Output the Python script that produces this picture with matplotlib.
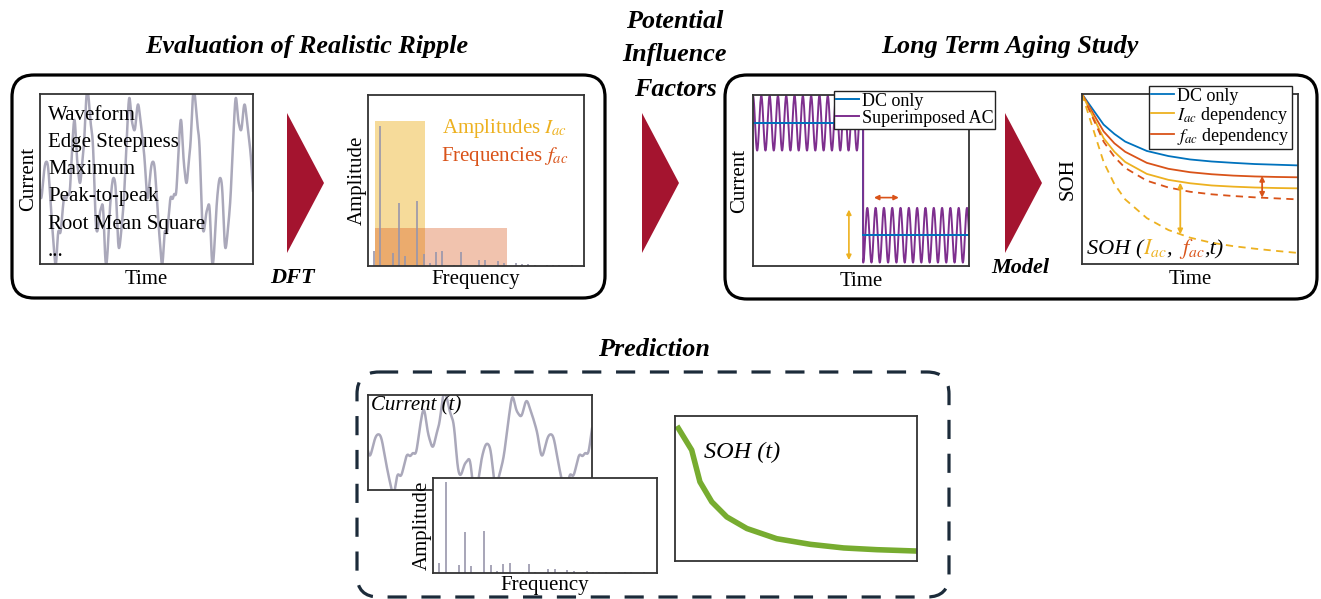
import numpy as np
import matplotlib
matplotlib.use("Agg")
import matplotlib.pyplot as plt
from matplotlib.patches import FancyBboxPatch, Polygon, Rectangle
from matplotlib.lines import Line2D
from matplotlib.offsetbox import TextArea, HPacker, AnchoredOffsetbox

plt.rcParams['font.family'] = 'serif'
plt.rcParams['font.serif'] = ['Liberation Serif', 'DejaVu Serif']
plt.rcParams['mathtext.fontset'] = 'stix'

# ---- data ----
# DFT spectrum (bin index, normalised amplitude)
spec_bins = [1, 2, 4, 5, 6, 8, 9, 10, 11, 12, 14, 15, 16, 18, 19, 21, 22, 24, 25, 26, 27, 29, 30, 31, 33]
spec_amps = [0.09, 0.82, 0.075, 0.37, 0.06, 0.38, 0.07, 0.015, 0.08, 0.09, 0.008, 0.08, 0.008,
             0.036, 0.036, 0.03, 0.02, 0.015, 0.01, 0.01, 0.008, 0.008, 0.008, 0.008, 0.008]
spec_phase = [0.3, 1.2, 2.0, 4.1, 0.7, 2.6, 5.0, 1.0, 3.3, 0.2, 1.5, 2.2, 4.4,
              0.9, 3.8, 2.9, 1.1, 5.5, 0.4, 2.7, 1.9, 3.1, 0.6, 4.8, 2.4]

# ripple test profile (normalised)
dc_high = 0.835
dc_low = 0.18
step_time = 0.51
ripple_amp = 0.16
ripple_cycles = 26

# aging curves (normalised time / SOH)
aging_t = [0, 0.05, 0.1, 0.15, 0.2, 0.3, 0.4, 0.5, 0.6, 0.7, 0.8, 0.9, 1.0]
soh_dc = [1.0, 0.91, 0.82, 0.765, 0.72, 0.665, 0.635, 0.615, 0.603, 0.595, 0.588, 0.584, 0.58]
soh_fac = [1.0, 0.89, 0.78, 0.71, 0.66, 0.595, 0.56, 0.54, 0.528, 0.52, 0.515, 0.512, 0.51]
soh_iac = [1.0, 0.87, 0.74, 0.66, 0.60, 0.53, 0.495, 0.475, 0.462, 0.455, 0.45, 0.447, 0.445]
soh_fac_hi = [1.0, 0.86, 0.72, 0.63, 0.565, 0.49, 0.45, 0.425, 0.41, 0.40, 0.392, 0.386, 0.38]
soh_iac_hi = [1.0, 0.80, 0.60, 0.47, 0.38, 0.27, 0.20, 0.155, 0.125, 0.105, 0.09, 0.077, 0.065]

# predicted SOH
pred_t = [0.014, 0.069, 0.103, 0.152, 0.214, 0.297, 0.42, 0.559, 0.697, 0.834, 0.993]
pred_soh = [0.915, 0.765, 0.546, 0.408, 0.304, 0.224, 0.154, 0.115, 0.09, 0.078, 0.069]

# colours
c_blue = '#0072BD'
c_yel = '#EDB120'
c_red = '#D95319'
c_pur = '#7E2F8E'
c_green = '#77AC30'
c_wave = '#AAA8BA'
c_spec = '#9896AC'
c_tri = '#A4142F'
c_dash = '#1C2B3A'

W, H = 1321, 599


def rect(x0, y0, x1, y1):
    return [x0 / W, 1 - y1 / H, (x1 - x0) / W, (y1 - y0) / H]


def synth(t, cycles):
    y = np.zeros_like(t)
    for b, a, p in zip(spec_bins, spec_amps, spec_phase):
        y += a * np.cos(2 * np.pi * b * cycles * t + p)
    return y


def panel(r, zorder=1):
    ax = fig.add_axes(rect(*r))
    ax.set_xticks([])
    ax.set_yticks([])
    for s in ax.spines.values():
        s.set_linewidth(1.3)
        s.set_color('#333333')
    ax.set_zorder(zorder)
    return ax


fig = plt.figure(figsize=(W / 100, H / 100), dpi=100)

bg = fig.add_axes([0, 0, 1, 1])
bg.set_xlim(0, W)
bg.set_ylim(H, 0)
bg.axis('off')
bg.set_zorder(10)
bg.patch.set_visible(False)

lab_sz = 15
leg_sz = 13
txt_sz = 15
title_kw = dict(fontsize=18.8, fontweight='bold', fontstyle='italic', ha='center', va='center')

# frames
bg.add_patch(FancyBboxPatch((12, 75), 593, 223, boxstyle="round,pad=0,rounding_size=22",
                            fc='none', ec='black', lw=2.3))
bg.add_patch(FancyBboxPatch((725, 75), 592, 224, boxstyle="round,pad=0,rounding_size=22",
                            fc='none', ec='black', lw=2.3))
bg.add_patch(FancyBboxPatch((357, 372), 592, 225, boxstyle="round,pad=0,rounding_size=22",
                            fc='none', ec=c_dash, lw=2.3, ls=(0, (6, 4.6))))

# titles
bg.text(307, 47, 'Evaluation of Realistic Ripple', **title_kw)
bg.text(675, 21, 'Potential', **title_kw)
bg.text(675, 55, 'Influence', **title_kw)
bg.text(675, 89, 'Factors', **title_kw)
bg.text(1010, 47, 'Long Term Aging Study', **title_kw)
bg.text(654, 349, 'Prediction', **title_kw)
bg.text(292, 278, 'DFT', fontsize=16, fontweight='bold', fontstyle='italic', ha='center', va='center')
bg.text(1020, 268, 'Model', fontsize=16, fontweight='bold', fontstyle='italic', ha='center', va='center')

# arrows between stages
for x0 in [287, 642, 1005]:
    bg.add_patch(Polygon([[x0, 113], [x0 + 37, 183], [x0, 253]], closed=True, fc=c_tri, ec='none'))

# --- panel 1: waveform ---
t = np.linspace(0, 1, 1500)
ax1 = panel((40, 94, 253, 264))
ax1.plot(t, synth(t, 2.0), color=c_wave, lw=1.8)
ax1.set_xlim(0, 1)
ax1.set_ylim(-1.3, 1.3)
ax1.set_xlabel('Time', fontsize=lab_sz, labelpad=4)
ax1.set_ylabel('Current', fontsize=lab_sz, labelpad=1)
feats = ['Waveform', 'Edge Steepness', 'Maximum', 'Peak-to-peak', 'Root Mean Square', '...']
for i, f in enumerate(feats):
    bg.text(48, 116 + i * 27, f, fontsize=txt_sz, ha='left', va='center')

# --- panel 2: spectrum ---
ax2 = panel((368, 95, 584, 266))
ax2.add_patch(Rectangle((1.15, 0), 8.05, 0.85, fc=c_yel, alpha=0.45, ec='none'))
ax2.add_patch(Rectangle((1.15, 0), 21.4, 0.22, fc=c_red, alpha=0.35, ec='none'))
ax2.vlines(spec_bins, 0, spec_amps, color=c_spec, lw=1.2)
ax2.set_xlim(0, 35)
ax2.set_ylim(0, 1)
ax2.set_xlabel('Frequency', fontsize=lab_sz, labelpad=3)
ax2.set_ylabel('Amplitude', fontsize=lab_sz, labelpad=1)
bg.text(442, 128, 'Amplitudes $I_{ac}$', color=c_yel, fontsize=txt_sz, ha='left', va='center')
bg.text(441, 156, 'Frequencies $f_{ac}$', color=c_red, fontsize=txt_sz, ha='left', va='center')

# --- panel 3: test profiles ---
ax3 = panel((753, 95, 969, 266))
t1 = np.linspace(0, step_time, 600)
t2 = np.linspace(step_time, 1, 600)
ac = np.concatenate([dc_high + ripple_amp * np.cos(2 * np.pi * ripple_cycles * t1),
                     dc_low - ripple_amp * np.cos(2 * np.pi * ripple_cycles * (t2 - step_time))])
ax3.plot([0, step_time, step_time, 1], [dc_high, dc_high, dc_low, dc_low], color=c_blue, lw=1.4)
ax3.plot(np.concatenate([t1, t2]), ac, color=c_pur, lw=1.4)
ax3.plot([0, step_time], [dc_high, dc_high], color=c_blue, lw=1.4)
ax3.plot([step_time, 1], [dc_low, dc_low], color=c_blue, lw=1.4)
ax3.annotate('', xy=(0.444, 0.33), xytext=(0.444, 0.035),
             arrowprops=dict(arrowstyle='<|-|>', color=c_yel, lw=1.2, mutation_scale=7, shrinkA=0, shrinkB=0))
ax3.annotate('', xy=(0.56, 0.40), xytext=(0.675, 0.40),
             arrowprops=dict(arrowstyle='<|-|>', color=c_red, lw=1.2, mutation_scale=7, shrinkA=0, shrinkB=0))
ax3.set_xlim(0, 1)
ax3.set_ylim(0, 1)
ax3.set_xlabel('Time', fontsize=lab_sz, labelpad=4)
ax3.set_ylabel('Current', fontsize=lab_sz, labelpad=3)
h3 = [Line2D([], [], color=c_blue, lw=1.4), Line2D([], [], color=c_pur, lw=1.4)]
leg3 = ax3.legend(h3, ['DC only', 'Superimposed AC'], loc='upper left',
                  bbox_to_anchor=(834 / W, 1 - 91 / H), bbox_transform=fig.transFigure,
                  fontsize=leg_sz, fancybox=False, framealpha=1, edgecolor='#222222',
                  borderpad=0.1, handlelength=1.3, handletextpad=0.15, labelspacing=0.0,
                  borderaxespad=0)
leg3.get_frame().set_linewidth(1.0)

# --- panel 4: aging curves ---
ax4 = panel((1082, 94, 1298, 264))
ax4.plot(aging_t, soh_dc, color=c_blue, lw=1.3)
ax4.plot(aging_t, soh_fac, color=c_red, lw=1.3)
ax4.plot(aging_t, soh_iac, color=c_yel, lw=1.3)
ax4.plot(aging_t, soh_fac_hi, color=c_red, lw=1.3, ls=(0, (4, 3)))
ax4.plot(aging_t, soh_iac_hi, color=c_yel, lw=1.3, ls=(0, (4, 3)))
ax4.annotate('', xy=(0.455, 0.478), xytext=(0.455, 0.175),
             arrowprops=dict(arrowstyle='<|-|>', color=c_yel, lw=1.3, mutation_scale=7, shrinkA=0, shrinkB=0))
ax4.annotate('', xy=(0.834, 0.518), xytext=(0.834, 0.39),
             arrowprops=dict(arrowstyle='<|-|>', color=c_red, lw=1.3, mutation_scale=7, shrinkA=0, shrinkB=0))
ax4.set_xlim(0, 1)
ax4.set_ylim(0, 1)
ax4.set_xlabel('Time', fontsize=lab_sz, labelpad=4)
ax4.set_ylabel('SOH', fontsize=lab_sz, labelpad=3)
h4 = [Line2D([], [], color=c_blue, lw=1.3), Line2D([], [], color=c_yel, lw=1.3),
      Line2D([], [], color=c_red, lw=1.3)]
leg4 = ax4.legend(h4, ['DC only', '$I_{ac}$ dependency', '$f_{ac}$ dependency'], loc='upper left',
                  bbox_to_anchor=(1149 / W, 1 - 86 / H), bbox_transform=fig.transFigure,
                  fontsize=leg_sz, fancybox=False, framealpha=1, edgecolor='#222222',
                  borderpad=0.1, handlelength=1.3, handletextpad=0.15, labelspacing=0.0,
                  borderaxespad=0)
leg4.get_frame().set_linewidth(1.0)

soh_parts = [('SOH (', 'black'), ('$I_{ac}$', c_yel), (', ', 'black'), ('$f_{ac}$', c_red), (',t)', 'black')]
areas = [TextArea(s, textprops=dict(color=c, fontsize=16, fontstyle='italic')) for s, c in soh_parts]
pack = HPacker(children=areas, pad=0, sep=0, align='baseline')
bg.add_artist(AnchoredOffsetbox(loc='lower left', child=pack, frameon=False, pad=0, borderpad=0,
                                bbox_to_anchor=(1087 / W, 1 - 261 / H), bbox_transform=fig.transFigure))

# --- panel 5/6: prediction inputs ---
ax5 = panel((368, 395, 592, 490), zorder=1)
ax5.plot(t, synth(t, 1.3), color=c_wave, lw=1.8)
ax5.set_xlim(0, 1)
ax5.set_ylim(-1.2, 1.3)
bg.text(371, 406, 'Current (t)', fontsize=15, fontstyle='italic', ha='left', va='center')

ax6 = panel((433, 478, 657, 573), zorder=2)
ax6.vlines(spec_bins, 0, spec_amps, color=c_spec, lw=1.2)
ax6.set_xlim(0, 35)
ax6.set_ylim(0, 0.86)
ax6.set_xlabel('Frequency', fontsize=lab_sz, labelpad=2)
ax6.set_ylabel('Amplitude', fontsize=lab_sz, labelpad=1)

# --- panel 7: predicted SOH ---
ax7 = panel((675, 416, 917, 561))
ax7.plot(pred_t, pred_soh, color=c_green, lw=4)
ax7.set_xlim(0, 1)
ax7.set_ylim(0, 1)
bg.text(704, 452, 'SOH (t)', fontsize=17.5, fontstyle='italic', ha='left', va='center')

fig.savefig('out.png', dpi=100)
